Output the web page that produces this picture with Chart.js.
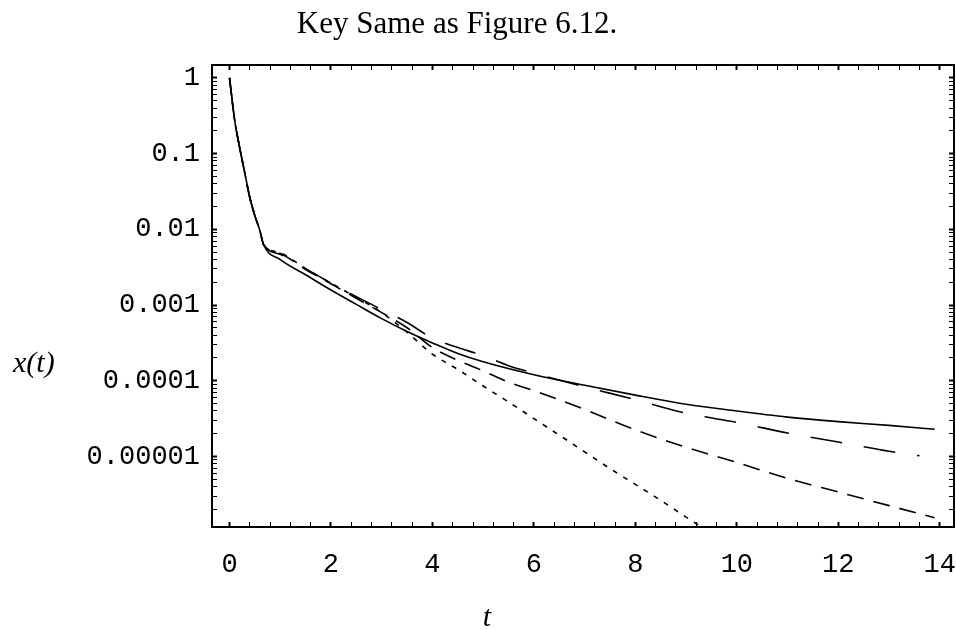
<!DOCTYPE html>
<html>
<head>
<meta charset="utf-8">
<script src="https://cdn.jsdelivr.net/npm/chart.js@4.4.1/dist/chart.umd.min.js"></script>
<style>
  html, body { margin: 0; padding: 0; background: #fff; }
  #wrap { width: 956px; height: 630px; }
</style>
</head>
<body>
<div id="wrap"><canvas id="decayChart" width="956" height="630"></canvas></div>
<script>
const titleText = 'Key Same as Figure 6.12.';
const xAxisLabel = 't';
const yAxisLabel = 'x(t)';

const xTickLabels = [0, 2, 4, 6, 8, 10, 12, 14];
const yTickValues = [1, 0.1, 0.01, 0.001, 0.0001, 0.00001];
const yTickLabels = ['1', '0.1', '0.01', '0.001', '0.0001', '0.00001'];

// solid curve
const tSolid = [0, 0.1, 0.2, 0.3, 0.4, 0.5, 0.6, 0.67, 1, 1.5, 2, 2.5, 3, 3.5, 4, 4.5, 5, 6, 7, 8, 9, 10, 11, 12, 13, 13.9];
const xSolid = [1, 0.282, 0.12, 0.0562, 0.0263, 0.0151, 0.00955, 0.00631, 0.00398, 0.00251, 0.00158, 0.00102, 0.000661, 0.000447, 0.000316, 0.000229, 0.000178, 0.00012, 8.71e-5, 6.46e-5, 4.9e-5, 3.98e-5, 3.31e-5, 2.88e-5, 2.57e-5, 2.29e-5];

// long dashes
const tLong = [0, 0.1, 0.2, 0.3, 0.4, 0.5, 0.6, 0.67, 1, 1.5, 2, 2.5, 3, 3.5, 4, 4.5, 5, 5.5, 6, 7, 8, 9, 10, 11, 12, 13, 13.6];
const xLong = [1, 0.282, 0.12, 0.0562, 0.0263, 0.0151, 0.00955, 0.00631, 0.00468, 0.00302, 0.00195, 0.00129, 0.000871, 0.000589, 0.000363, 0.000275, 0.000214, 0.000158, 0.000126, 8.32e-5, 5.62e-5, 3.72e-5, 2.82e-5, 2.04e-5, 1.55e-5, 1.17e-5, 1.02e-5];

// medium dashes
const tMedium = [0, 0.1, 0.2, 0.3, 0.4, 0.5, 0.6, 0.67, 1, 1.5, 2, 2.5, 3, 3.5, 4, 4.5, 5, 5.5, 6, 7, 8, 9, 10, 11, 12, 13, 13.9];
const xMedium = [1, 0.282, 0.12, 0.0562, 0.0263, 0.0151, 0.00955, 0.00631, 0.00479, 0.00295, 0.00191, 0.00123, 0.000794, 0.000501, 0.000275, 0.000186, 0.000135, 9.55e-5, 7.41e-5, 4.17e-5, 2.24e-5, 1.32e-5, 8.32e-6, 5.13e-6, 3.39e-6, 2.24e-6, 1.55e-6];

// short dashes
const tShort = [0, 0.1, 0.2, 0.3, 0.4, 0.5, 0.6, 0.67, 1, 1.5, 2, 2.5, 3, 3.5, 4, 4.5, 5, 5.5, 6, 6.5, 7, 7.5, 8, 8.5, 9, 9.3];
const xShort = [1, 0.282, 0.12, 0.0562, 0.0263, 0.0151, 0.00955, 0.00631, 0.0049, 0.00302, 0.00195, 0.00126, 0.000794, 0.000437, 0.000224, 0.000141, 8.51e-5, 5.25e-5, 3.16e-5, 1.91e-5, 1.15e-5, 6.92e-6, 4.27e-6, 2.63e-6, 1.58e-6, 1.17e-6];

const toPoints = (ts, xs) => ts.map((t, i) => ({ x: t, y: xs[i] }));

// tick positions: x every 0.4, y at 1..9 per decade
const xTickPositions = [];
for (let k = 0; k <= 35; k++) xTickPositions.push(Math.round(k * 4) / 10);
const yTickPositions = [];
for (let e = -6; e <= 0; e++) {
    for (let m = 1; m <= 9; m++) {
        const v = m * Math.pow(10, e);
        if (v >= 1.17e-6 && v <= 1.48) yTickPositions.push(v);
    }
}

const X_MIN = -0.345, X_MAX = 14.28;
const Y_MIN = 1.17e-6, Y_MAX = 1.48;

const isDecade = (v) => Math.abs(Math.log10(v) - Math.round(Math.log10(v))) < 1e-6;

function line(label, data, dash) {
    return {
        label: label,
        data: data,
        showLine: true,
        borderColor: '#000',
        borderWidth: 1.6,
        borderDash: dash,
        pointRadius: 0,
        fill: false,
        cubicInterpolationMode: 'monotone'
    };
}

const tickFont = { family: '"Liberation Mono", monospace', size: 27 };
const border = { display: true, color: '#000', width: 2 };

function frameGrid(widthFn) {
    return {
        drawOnChartArea: false,
        drawTicks: true,
        tickLength: -5,
        tickColor: '#000',
        tickWidth: widthFn
    };
}

// fixed box sizes so the frame lands where the figure has it
function fixBox(w, h) {
    return (scale) => {
        if (w !== null) scale.width = w;
        if (h !== null) scale.height = h;
        scale.paddingLeft = 0;
        scale.paddingRight = 0;
        scale.paddingTop = 0;
        scale.paddingBottom = 0;
    };
}

const figureText = {
    id: 'figureText',
    afterDraw(chart) {
        const c = chart.ctx;
        c.save();
        c.fillStyle = '#000';
        c.textBaseline = 'alphabetic';
        c.font = '31px "Liberation Serif", serif';
        c.textAlign = 'center';
        c.fillText(titleText, 457, 33);
        c.font = 'italic 30px "Liberation Serif", serif';
        c.textAlign = 'left';
        c.fillText(yAxisLabel, 13, 372);
        c.textAlign = 'center';
        c.fillText(xAxisLabel, 487, 626);
        c.restore();
    }
};

const ctx = document.getElementById('decayChart').getContext('2d');
const decayChart = new Chart(ctx, {
    type: 'scatter',
    data: {
        datasets: [
            line('solid', toPoints(tSolid, xSolid), []),
            line('long', toPoints(tLong, xLong), [32, 22]),
            line('medium', toPoints(tMedium, xMedium), [17, 10]),
            line('short', toPoints(tShort, xShort), [5, 7])
        ]
    },
    options: {
        responsive: false,
        animation: false,
        devicePixelRatio: 1,
        layout: { padding: { top: 65, right: 2, left: 0, bottom: 0 } },
        plugins: {
            legend: { display: false },
            tooltip: { enabled: false },
            title: { display: false }
        },
        scales: {
            x: {
                type: 'linear',
                position: 'bottom',
                min: X_MIN,
                max: X_MAX,
                bounds: 'data',
                border: border,
                grid: frameGrid((c) => xTickLabels.includes(c.tick && c.tick.value) ? 2 : 1),
                afterBuildTicks: (scale) => { scale.ticks = xTickPositions.map(v => ({ value: v })); },
                afterFit: fixBox(null, 103),
                ticks: {
                    autoSkip: false,
                    maxRotation: 0,
                    padding: 27,
                    color: '#000',
                    font: tickFont,
                    callback: (value) => xTickLabels.includes(value) ? String(value) : ''
                }
            },
            x2: {
                type: 'linear',
                position: 'top',
                min: X_MIN,
                max: X_MAX,
                bounds: 'data',
                border: border,
                grid: frameGrid((c) => xTickLabels.includes(c.tick && c.tick.value) ? 2 : 1),
                afterBuildTicks: (scale) => { scale.ticks = xTickPositions.map(v => ({ value: v })); },
                afterFit: fixBox(null, 0),
                ticks: { display: false }
            },
            y: {
                type: 'logarithmic',
                position: 'left',
                min: Y_MIN,
                max: Y_MAX,
                bounds: 'data',
                border: border,
                grid: frameGrid((c) => c.tick && isDecade(c.tick.value) ? 2 : 1),
                afterBuildTicks: (scale) => { scale.ticks = yTickPositions.map(v => ({ value: v })); },
                afterFit: fixBox(212, null),
                ticks: {
                    autoSkip: false,
                    padding: 17,
                    color: '#000',
                    font: tickFont,
                    callback: (value) => {
                        const i = yTickValues.findIndex(v => Math.abs(Math.log10(v) - Math.log10(value)) < 1e-6);
                        return i >= 0 ? yTickLabels[i] : '';
                    }
                }
            },
            y2: {
                type: 'logarithmic',
                position: 'right',
                min: Y_MIN,
                max: Y_MAX,
                bounds: 'data',
                border: border,
                grid: frameGrid((c) => c.tick && isDecade(c.tick.value) ? 2 : 1),
                afterBuildTicks: (scale) => { scale.ticks = yTickPositions.map(v => ({ value: v })); },
                afterFit: fixBox(0, null),
                ticks: { display: false }
            }
        }
    },
    plugins: [figureText]
});
</script>
</body>
</html>
